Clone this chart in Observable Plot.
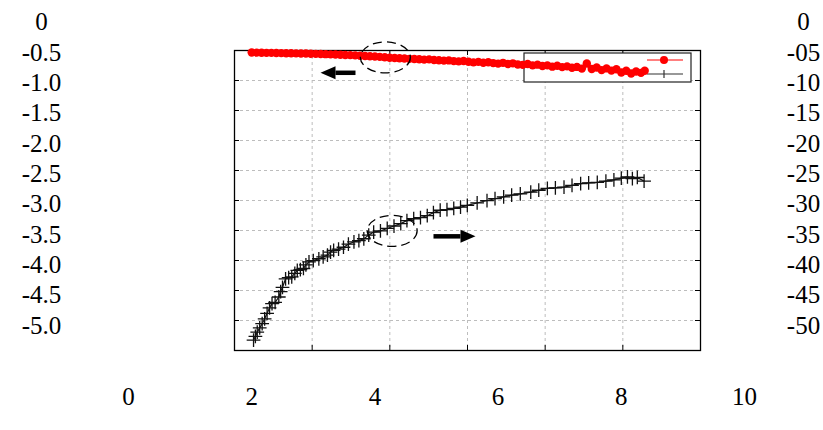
<!DOCTYPE html>
<html><head><meta charset="utf-8">
<script src="https://cdn.jsdelivr.net/npm/d3@7"></script>
<script src="https://cdn.jsdelivr.net/npm/@observablehq/plot@0.6"></script>
<style>body{margin:0;background:#fff}</style>
</head><body><div id="chart"></div>
<script>
// ---- tick labels ----
const xTickValues = [0, 2, 4, 6, 8, 10];
const leftTickValues = [0, -0.5, -1.0, -1.5, -2.0, -2.5, -3.0, -3.5, -4.0, -4.5, -5.0];
const leftTickLabels = ["0", "-0.5", "-1.0", "-1.5", "-2.0", "-2.5", "-3.0", "-3.5", "-4.0", "-4.5", "-5.0"];
const rightTickValues = [0, -5, -10, -15, -20, -25, -30, -35, -40, -45, -50];
const rightTickLabels = ["0", "-05", "-10", "-15", "-20", "-25", "-30", "-35", "-40", "-45", "-50"];

// ---- red series (left axis) ----
const redX = [2.00,2.08,2.16,2.24,2.32,2.40,2.48,2.56,2.64,2.72,2.80,2.88,2.96,3.04,3.12,3.20,3.28,3.36,3.44,3.52,3.60,3.68,3.76,3.84,3.92,4.00,4.08,4.16,4.24,4.32,4.40,4.48,4.56,4.64,4.72,4.80,4.88,4.96,5.04,5.12,5.20,5.28,5.36,5.44,5.52,5.60,5.68,5.76,5.84,5.92,6.00,6.08,6.16,6.24,6.32,6.40,6.48,6.56,6.64,6.72,6.80,6.88,6.96,7.04,7.12,7.20,7.28,7.36,7.44,7.52,7.60,7.68,7.76,7.84,7.92,8.00,8.08,8.16,8.24,8.32,8.38];
const redY = [-0.500,-0.502,-0.503,-0.505,-0.506,-0.508,-0.509,-0.511,-0.512,-0.514,-0.516,-0.517,-0.520,-0.522,-0.524,-0.527,-0.530,-0.532,-0.536,-0.540,-0.543,-0.547,-0.552,-0.556,-0.561,-0.566,-0.572,-0.578,-0.585,-0.589,-0.594,-0.598,-0.604,-0.607,-0.612,-0.617,-0.613,-0.624,-0.628,-0.633,-0.630,-0.641,-0.646,-0.640,-0.652,-0.662,-0.654,-0.668,-0.660,-0.674,-0.683,-0.670,-0.690,-0.678,-0.697,-0.704,-0.688,-0.712,-0.700,-0.721,-0.712,-0.733,-0.718,-0.740,-0.728,-0.752,-0.737,-0.765,-0.680,-0.772,-0.748,-0.790,-0.762,-0.798,-0.775,-0.830,-0.800,-0.845,-0.812,-0.835,-0.800];

// ---- black series (right axis) ----
const blackX = [2.03,2.06,2.09,2.13,2.17,2.21,2.25,2.29,2.33,2.38,2.44,2.47,2.50,2.55,2.60,2.65,2.70,2.74,2.79,2.84,2.88,2.93,3.00,3.09,3.16,3.23,3.28,3.33,3.41,3.49,3.57,3.66,3.74,3.82,3.90,3.98,4.09,4.20,4.31,4.42,4.52,4.63,4.74,4.85,4.95,5.06,5.17,5.28,5.39,5.50,5.66,5.82,5.95,6.09,6.22,6.36,6.53,6.66,6.80,6.93,7.07,7.20,7.34,7.47,7.61,7.75,7.88,8.00,8.10,8.18,8.26,8.37];
const blackY = [-52.4,-51.8,-51.1,-50.4,-49.7,-48.9,-48.0,-47.1,-46.4,-46.2,-45.3,-44.4,-43.7,-42.3,-42.1,-42.0,-41.4,-40.9,-40.8,-40.6,-40.0,-39.5,-39.3,-39.0,-38.7,-38.4,-37.9,-37.6,-37.4,-37.1,-36.6,-36.2,-36.0,-35.7,-35.1,-34.6,-34.4,-34.0,-33.6,-33.2,-32.7,-32.4,-32.2,-31.9,-31.4,-31.0,-30.9,-30.7,-30.5,-30.2,-29.8,-29.4,-29.1,-28.8,-28.5,-28.3,-28.0,-27.7,-27.4,-27.3,-27.2,-26.9,-26.6,-26.5,-26.4,-26.2,-26.0,-25.7,-25.5,-25.8,-25.6,-26.2];

// ---- annotations (data units, left axis) ----
const ellipseX = [4.17, 4.28];
const ellipseY = [-0.58, -3.44];
const arrowShaftFrom = [3.685, 4.951];
const arrowShaftTo = [3.36, 5.39];
const arrowHeadX = [3.239, 5.511];
const arrowY = [-0.834, -3.53];
const arrowRotate = [180, 0];

// ---- layout ----
const W = 823, H = 430;
const FONT = "'Liberation Serif', serif";
const box = {left: 234, right: 700, top: 50, bottom: 350};
const xRange = [128, 744], yRange = [21.7, 325];
const xs = d3.scaleLinear([0, 10], xRange);
const ys = d3.scaleLinear([0, -5], yRange);
const gridX = d3.range(1, 6).map(i => xs.invert(box.left + i * (box.right - box.left) / 6));
const gridY = d3.range(1, 10).map(i => ys.invert(box.top + i * (box.bottom - box.top) / 10));
const xL = xs.invert(box.left), xR = xs.invert(box.right);
const yT = ys.invert(box.top), yB = ys.invert(box.bottom);
const tk = 5;

const ellipseSymbol = {draw(ctx) {
  const rx = 25, ry = 15.5, k = 0.5523;
  ctx.moveTo(rx, 0);
  ctx.bezierCurveTo(rx, ry * k, rx * k, ry, 0, ry);
  ctx.bezierCurveTo(-rx * k, ry, -rx, ry * k, -rx, 0);
  ctx.bezierCurveTo(-rx, -ry * k, -rx * k, -ry, 0, -ry);
  ctx.bezierCurveTo(rx * k, -ry, rx, -ry * k, rx, 0);
  ctx.closePath();
}};
const headSymbol = {draw(ctx) {
  ctx.moveTo(-7.5, -6.5); ctx.lineTo(7.5, 0); ctx.lineTo(-7.5, 6.5); ctx.closePath();
}};

const legendMark = (index, scales, values, dims) => {
  const g = d3.create("svg:g");
  const w = 167, h = 29;
  const lx = dims.width - dims.marginRight - 9 - w, ly = dims.marginTop + 3;
  g.append("rect").attr("x", lx).attr("y", ly).attr("width", w).attr("height", h)
    .attr("fill", "white").attr("stroke", "#222").attr("stroke-width", 1.2);
  const sx1 = lx + 123, sx2 = lx + 159, cx = lx + 140;
  g.append("line").attr("x1", sx1).attr("x2", sx2).attr("y1", ly + 7).attr("y2", ly + 7).attr("stroke", "red").attr("stroke-width", 1.2);
  g.append("circle").attr("cx", cx).attr("cy", ly + 7).attr("r", 4).attr("fill", "red");
  g.append("line").attr("x1", sx1).attr("x2", sx2).attr("y1", ly + 21).attr("y2", ly + 21).attr("stroke", "#333").attr("stroke-width", 1.2);
  g.append("line").attr("x1", cx).attr("x2", cx).attr("y1", ly + 17).attr("y2", ly + 25).attr("stroke", "#333").attr("stroke-width", 1.2);
  return g.node();
};

const redIdx = d3.range(redX.length);
const blackIdx = d3.range(blackX.length);
const annIdx = d3.range(ellipseX.length);
const gridStyle = {stroke: "#bdbdbd", strokeDasharray: "3,3", strokeWidth: 1};
const textStyle = {fontSize: 25, fontFamily: FONT, fill: "black"};

const chart = Plot.plot({
  width: W, height: H,
  marginLeft: box.left, marginRight: W - box.right, marginTop: box.top, marginBottom: H - box.bottom,
  x: {domain: [0, 10], range: xRange, axis: null},
  y: {domain: [0, -5], range: yRange, axis: null},
  style: {fontFamily: FONT, background: "white", color: "black"},
  marks: [
    Plot.ruleX(gridX, gridStyle),
    Plot.ruleY(gridY, gridStyle),
    // frame ticks
    Plot.ruleX(gridX, {y1: yB, y2: ys.invert(box.bottom - tk), stroke: "black"}),
    Plot.ruleX(gridX, {y1: yT, y2: ys.invert(box.top + tk), stroke: "black"}),
    Plot.ruleY(gridY, {x1: xL, x2: xs.invert(box.left + tk), stroke: "black"}),
    Plot.ruleY(gridY, {x1: xR, x2: xs.invert(box.right - tk), stroke: "black"}),
    legendMark,
    Plot.frame({stroke: "black", strokeWidth: 1.3}),
    // red series
    Plot.line(redIdx, {x: i => redX[i], y: i => redY[i], stroke: "red", strokeWidth: 4}),
    Plot.dot(redIdx, {x: i => redX[i], y: i => redY[i], r: 4.2, fill: "red"}),
    // black series (right axis, scaled by 10)
    Plot.line(blackIdx, {x: i => blackX[i], y: i => blackY[i] / 10, stroke: "#111", strokeWidth: 1.2}),
    Plot.dot(blackIdx, {x: i => blackX[i], y: i => blackY[i] / 10, symbol: "plus", r: 4.5, stroke: "#111", strokeWidth: 1.3}),
    // annotations
    Plot.dot(annIdx, {x: i => ellipseX[i], y: i => ellipseY[i], symbol: ellipseSymbol, fill: "none", stroke: "black", strokeWidth: 1.3, strokeDasharray: "9,5"}),
    Plot.link(annIdx, {x1: i => arrowShaftFrom[i], x2: i => arrowShaftTo[i], y1: i => arrowY[i], y2: i => arrowY[i], stroke: "black", strokeWidth: 4.5}),
    Plot.dot(annIdx, {x: i => arrowHeadX[i], y: i => arrowY[i], symbol: headSymbol, rotate: i => arrowRotate[i], fill: "black", stroke: "none"}),
    // outer tick labels
    Plot.text(leftTickValues, {y: d => d, text: (d, i) => leftTickLabels[i], frameAnchor: "left", dx: 41 - box.left, textAnchor: "middle", ...textStyle}),
    Plot.text(rightTickValues, {y: d => d / 10, text: (d, i) => rightTickLabels[i], frameAnchor: "right", dx: 803 - box.right, textAnchor: "middle", ...textStyle}),
    Plot.text(xTickValues, {x: d => d, text: d => String(d), frameAnchor: "bottom", dy: 54, ...textStyle})
  ]
});
// force the serif face and size on every label (inline style wins over any sheet)
d3.select(chart).selectAll("text")
  .style("font-family", FONT)
  .style("font-size", "25px");
document.getElementById("chart").append(chart);
</script>
</body></html>
